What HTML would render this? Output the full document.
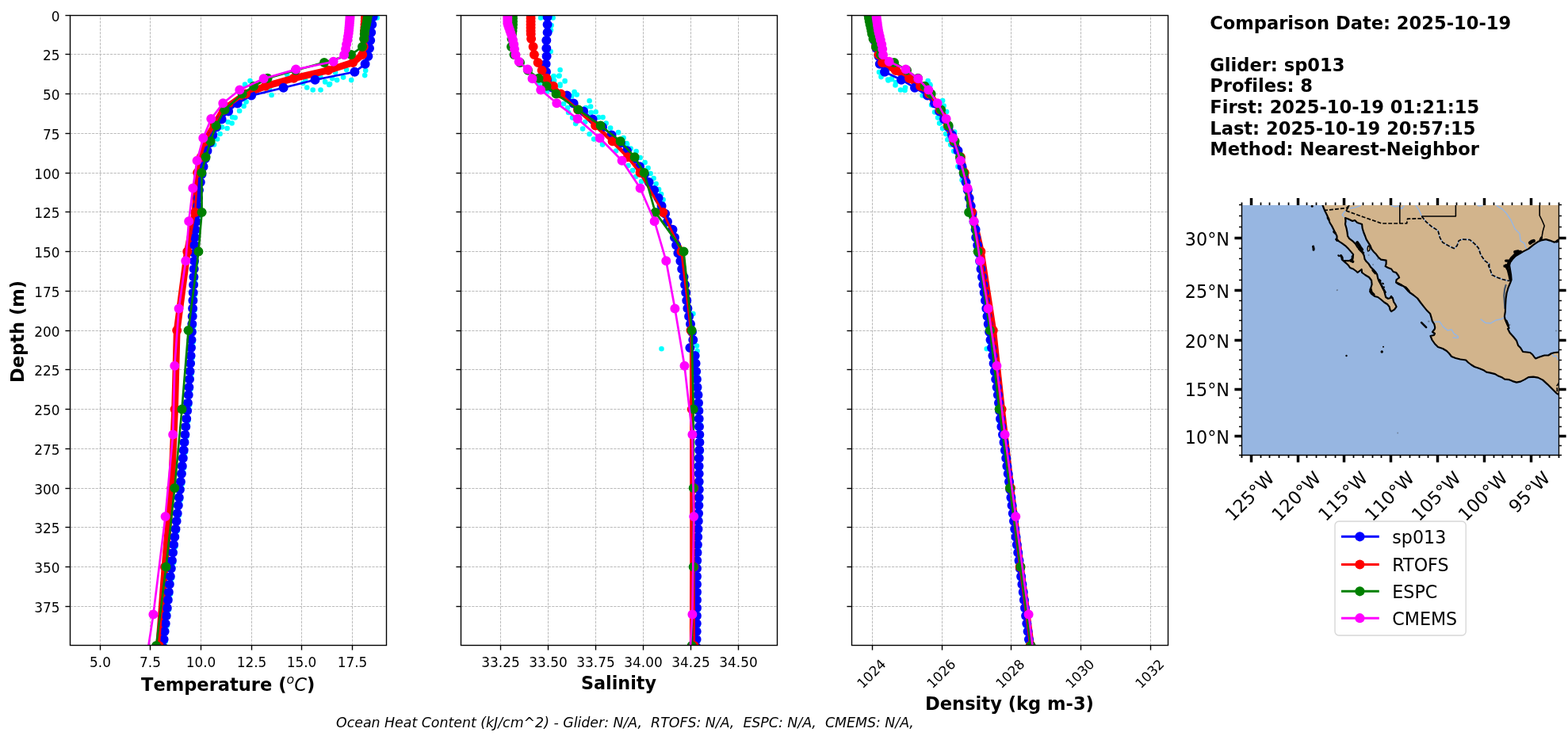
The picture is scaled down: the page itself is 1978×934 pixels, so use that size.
<!DOCTYPE html>
<html lang="en"><head><meta charset="utf-8"><title>Glider vs model comparison</title>
<style>html,body{margin:0;padding:0;background:#fff}svg{display:block}text{font-variant-ligatures:none;font-kerning:normal}</style></head>
<body>
<svg width="1978" height="934" viewBox="0 0 1978 934" font-family='"DejaVu Sans","Liberation Sans",sans-serif'>
<rect width="1978" height="934" fill="#fff"/>
<defs>
<clipPath id="c0"><rect x="88.5" y="19.5" width="399.0" height="795.0"/></clipPath>
<clipPath id="c1"><rect x="581.5" y="19.5" width="399.0" height="795.0"/></clipPath>
<clipPath id="c2"><rect x="1074.5" y="19.5" width="399.0" height="795.0"/></clipPath>
</defs>
<g stroke="#b0b0b0" stroke-width="0.87" stroke-dasharray="3.2 1.39" fill="none"><path d="M126.50 814.5V19.5"/><path d="M189.50 814.5V19.5"/><path d="M253.50 814.5V19.5"/><path d="M317.50 814.5V19.5"/><path d="M380.50 814.5V19.5"/><path d="M444.50 814.5V19.5"/><path d="M88.5 19.50H487.5"/><path d="M88.5 68.50H487.5"/><path d="M88.5 118.50H487.5"/><path d="M88.5 168.50H487.5"/><path d="M88.5 218.50H487.5"/><path d="M88.5 267.50H487.5"/><path d="M88.5 317.50H487.5"/><path d="M88.5 367.50H487.5"/><path d="M88.5 417.50H487.5"/><path d="M88.5 466.50H487.5"/><path d="M88.5 516.50H487.5"/><path d="M88.5 566.50H487.5"/><path d="M88.5 616.50H487.5"/><path d="M88.5 665.50H487.5"/><path d="M88.5 715.50H487.5"/><path d="M88.5 765.50H487.5"/></g>
<g clip-path="url(#c0)"><path d="M475.7 22.5h0M461.2 89.1h0M460.2 95.1h0M437.1 88.1h0M423.1 91.6h0M433.1 97.6h0M419.1 99.1h0M425.1 101.1h0M443.2 101.1h0M410.1 103.1h0M404.1 97.1h0M416.1 106.1h0M315.5 102.1h0M362.1 94.1h0M309.0 106.6h0M385.1 101.1h0M309.1 107.5h0M342.6 120.0h0M340.1 111.0h0M387.2 110.5h0M394.7 113.5h0M404.5 113.5h0M410.2 103.5h0M415.2 107.0h0M382.2 105.0h0M404.2 97.5h0M310.6 128.5h0M307.6 134.0h0M302.1 140.0h0M293.1 148.0h0M296.6 148.5h0M287.6 154.0h0M292.6 155.5h0M280.1 160.5h0M286.6 162.0h0M277.6 169.0h0M274.1 175.5h0M270.1 182.5h0M251.5 258.4h0M250.6 272.2h0M249.7 278.3h0M248.7 292.1h0M248.0 298.2h0M247.6 312.0h0M247.4 318.1h0M247.2 331.9h0M246.9 338.0h0M246.6 351.8h0M246.3 357.9h0M245.9 371.7h0M245.6 377.8h0M245.3 391.6h0M244.9 397.7h0M244.5 411.5h0M244.1 417.6h0M243.7 431.4h0M243.2 437.5h0M242.8 451.3h0M242.3 457.3h0M241.8 471.2h0M241.2 477.2h0M240.6 491.1h0M239.9 497.1h0M239.1 511.0h0M238.3 517.0h0M237.4 530.9h0M236.5 536.9h0M235.6 550.8h0M234.7 556.8h0M233.9 570.7h0M233.0 576.7h0M232.0 590.6h0M231.1 596.6h0M230.1 610.5h0M229.1 616.5h0M228.0 630.4h0M227.0 636.4h0M225.9 650.3h0M224.8 656.3h0M223.7 670.1h0M222.5 676.2h0M221.3 690.0h0M220.2 696.1h0M219.1 709.9h0M218.0 716.0h0M217.0 729.8h0M216.0 735.9h0M215.0 749.7h0M214.0 755.8h0M213.0 769.6h0M211.9 775.7h0M210.9 789.5h0M209.8 795.6h0M208.8 809.4h0M207.8 815.5h0" fill="none" stroke="#00ffff" stroke-width="6.6" stroke-linecap="round"/><path d="M461.0 19.2L460.9 23.1L460.7 27.1L460.5 31.1L460.3 35.1L460.0 39.1L459.8 43.0L459.5 49.0L458.7 59.0L457.2 68.9L445.2 78.9L414.1 88.8L370.6 98.8L335.0 108.7L310.0 118.6L282.0 138.5L270.5 158.4L259.0 178.3L253.6 198.2L249.1 218.1L246.1 267.9L236.3 317.6L223.2 417.1L220.6 516.5L216.3 616.0L208.0 715.5L200.6 815.0" fill="none" stroke="#ff0000" stroke-width="8.7" stroke-linejoin="round" stroke-linecap="butt"/><path d="M470.6 21.2L469.3 31.1L468.2 41.1L467.2 51.0L466.0 60.9L464.4 70.9L460.6 80.8L447.4 90.8L397.5 100.7L357.6 110.7L317.1 120.6L299.6 130.6L288.1 140.5L279.6 150.5L273.1 160.4L268.3 170.4L265.0 180.3L261.5 190.3L258.8 200.2L256.5 210.2L254.5 220.1L252.8 230.1L251.0 240.0L250.0 250.0L249.3 259.9L248.4 269.8L247.5 279.8L246.5 289.7L245.8 299.7L245.4 309.6L245.2 319.6L245.0 329.5L244.7 339.5L244.4 349.4L244.1 359.4L243.7 369.3L243.4 379.3L243.1 389.2L242.7 399.2L242.3 409.1L241.9 419.1L241.5 429.0L241.0 439.0L240.6 448.9L240.1 458.8L239.6 468.8L239.0 478.7L238.4 488.7L237.7 498.6L236.9 508.6L236.1 518.5L235.2 528.5L234.3 538.4L233.4 548.4L232.5 558.3L231.7 568.3L230.8 578.2L229.8 588.2L228.9 598.1L227.9 608.1L226.9 618.0L225.8 628.0L224.8 637.9L223.7 647.9L222.6 657.8L221.5 667.7L220.3 677.7L219.1 687.6L218.0 697.6L216.9 707.5L215.8 717.5L214.8 727.4L213.8 737.4L212.8 747.3L211.8 757.3L210.8 767.2L209.7 777.2L208.7 787.1L207.6 797.1L206.6 807.0L205.6 817.0" fill="none" stroke="#0000ff" stroke-width="2.7" stroke-linejoin="round" stroke-linecap="butt"/><path d="M470.6 21.2h0M469.3 31.1h0M468.2 41.1h0M467.2 51.0h0M466.0 60.9h0M464.4 70.9h0M460.6 80.8h0M447.4 90.8h0M397.5 100.7h0M357.6 110.7h0M317.1 120.6h0M299.6 130.6h0M288.1 140.5h0M279.6 150.5h0M273.1 160.4h0M268.3 170.4h0M265.0 180.3h0M261.5 190.3h0M258.8 200.2h0M256.5 210.2h0M254.5 220.1h0M252.8 230.1h0M251.0 240.0h0M250.0 250.0h0M249.3 259.9h0M248.4 269.8h0M247.5 279.8h0M246.5 289.7h0M245.8 299.7h0M245.4 309.6h0M245.2 319.6h0M245.0 329.5h0M244.7 339.5h0M244.4 349.4h0M244.1 359.4h0M243.7 369.3h0M243.4 379.3h0M243.1 389.2h0M242.7 399.2h0M242.3 409.1h0M241.9 419.1h0M241.5 429.0h0M241.0 439.0h0M240.6 448.9h0M240.1 458.8h0M239.6 468.8h0M239.0 478.7h0M238.4 488.7h0M237.7 498.6h0M236.9 508.6h0M236.1 518.5h0M235.2 528.5h0M234.3 538.4h0M233.4 548.4h0M232.5 558.3h0M231.7 568.3h0M230.8 578.2h0M229.8 588.2h0M228.9 598.1h0M227.9 608.1h0M226.9 618.0h0M225.8 628.0h0M224.8 637.9h0M223.7 647.9h0M222.6 657.8h0M221.5 667.7h0M220.3 677.7h0M219.1 687.6h0M218.0 697.6h0M216.9 707.5h0M215.8 717.5h0M214.8 727.4h0M213.8 737.4h0M212.8 747.3h0M211.8 757.3h0M210.8 767.2h0M209.7 777.2h0M208.7 787.1h0M207.6 797.1h0M206.6 807.0h0M205.6 817.0h0" fill="none" stroke="#0000ff" stroke-width="12.0" stroke-linecap="round"/><path d="M461.0 19.2L460.9 23.1L460.7 27.1L460.5 31.1L460.3 35.1L460.0 39.1L459.8 43.0L459.5 49.0L458.7 59.0L457.2 68.9L445.2 78.9L414.1 88.8L370.6 98.8L335.0 108.7L310.0 118.6L282.0 138.5L270.5 158.4L259.0 178.3L253.6 198.2L249.1 218.1L246.1 267.9L236.3 317.6L223.2 417.1L220.6 516.5L216.3 616.0L208.0 715.5L200.6 815.0" fill="none" stroke="#ff0000" stroke-width="2.7" stroke-linejoin="round" stroke-linecap="butt"/><path d="M461.0 19.2h0M460.9 23.1h0M460.7 27.1h0M460.5 31.1h0M460.3 35.1h0M460.0 39.1h0M459.8 43.0h0M459.5 49.0h0M458.7 59.0h0M457.2 68.9h0M445.2 78.9h0M414.1 88.8h0M370.6 98.8h0M335.0 108.7h0M310.0 118.6h0M282.0 138.5h0M270.5 158.4h0M259.0 178.3h0M253.6 198.2h0M249.1 218.1h0M246.1 267.9h0M236.3 317.6h0M223.2 417.1h0M220.6 516.5h0M216.3 616.0h0M208.0 715.5h0M200.6 815.0h0" fill="none" stroke="#ff0000" stroke-width="12.0" stroke-linecap="round"/><path d="M464.2 19.2L463.5 23.1L462.8 27.1L462.0 31.1L461.0 35.1L460.2 39.1L459.8 43.0L459.2 49.0L457.0 59.0L443.0 68.9L409.0 78.9L373.0 88.8L337.6 98.8L320.1 108.7L305.6 118.6L283.6 138.5L272.6 158.4L265.6 178.3L259.6 198.2L254.4 218.1L254.6 267.9L250.4 317.6L237.6 417.1L229.5 516.5L220.3 616.0L209.5 715.5L197.1 815.0" fill="none" stroke="#008000" stroke-width="2.7" stroke-linejoin="round" stroke-linecap="butt"/><path d="M464.2 19.2h0M463.5 23.1h0M462.8 27.1h0M462.0 31.1h0M461.0 35.1h0M460.2 39.1h0M459.8 43.0h0M459.2 49.0h0M457.0 59.0h0M443.0 68.9h0M409.0 78.9h0M373.0 88.8h0M337.6 98.8h0M320.1 108.7h0M305.6 118.6h0M283.6 138.5h0M272.6 158.4h0M265.6 178.3h0M259.6 198.2h0M254.4 218.1h0M254.6 267.9h0M250.4 317.6h0M237.6 417.1h0M229.5 516.5h0M220.3 616.0h0M209.5 715.5h0M197.1 815.0h0" fill="none" stroke="#008000" stroke-width="12.0" stroke-linecap="round"/><path d="M441.6 20.1L441.5 22.2L441.3 24.4L441.1 26.8L440.9 29.3L440.7 32.0L440.4 34.9L440.1 38.2L439.7 41.9L439.0 46.0L438.3 50.6L437.1 56.0L436.1 62.1L434.1 69.3L420.6 77.7L373.3 87.6L332.6 99.3L302.3 113.5L281.3 130.2L266.3 150.1L256.3 174.2L248.6 202.8L243.3 237.4L238.2 279.2L234.3 329.3L225.6 389.4L220.3 461.8L218.2 548.4L208.6 652.0L193.4 775.6L170.9 922.2" fill="none" stroke="#ff00ff" stroke-width="2.7" stroke-linejoin="round" stroke-linecap="butt"/><path d="M441.6 20.1h0M441.5 22.2h0M441.3 24.4h0M441.1 26.8h0M440.9 29.3h0M440.7 32.0h0M440.4 34.9h0M440.1 38.2h0M439.7 41.9h0M439.0 46.0h0M438.3 50.6h0M437.1 56.0h0M436.1 62.1h0M434.1 69.3h0M420.6 77.7h0M373.3 87.6h0M332.6 99.3h0M302.3 113.5h0M281.3 130.2h0M266.3 150.1h0M256.3 174.2h0M248.6 202.8h0M243.3 237.4h0M238.2 279.2h0M234.3 329.3h0M225.6 389.4h0M220.3 461.8h0M218.2 548.4h0M208.6 652.0h0M193.4 775.6h0M170.9 922.2h0" fill="none" stroke="#ff00ff" stroke-width="12.0" stroke-linecap="round"/></g>
<g stroke="#000" stroke-width="1.39" fill="none"><path d="M126.50 814.5v6.08"/><path d="M189.50 814.5v6.08"/><path d="M253.50 814.5v6.08"/><path d="M317.50 814.5v6.08"/><path d="M380.50 814.5v6.08"/><path d="M444.50 814.5v6.08"/><path d="M88.5 19.50h-6.08"/><path d="M88.5 68.50h-6.08"/><path d="M88.5 118.50h-6.08"/><path d="M88.5 168.50h-6.08"/><path d="M88.5 218.50h-6.08"/><path d="M88.5 267.50h-6.08"/><path d="M88.5 317.50h-6.08"/><path d="M88.5 367.50h-6.08"/><path d="M88.5 417.50h-6.08"/><path d="M88.5 466.50h-6.08"/><path d="M88.5 516.50h-6.08"/><path d="M88.5 566.50h-6.08"/><path d="M88.5 616.50h-6.08"/><path d="M88.5 665.50h-6.08"/><path d="M88.5 715.50h-6.08"/><path d="M88.5 765.50h-6.08"/><rect x="88.5" y="19.5" width="399.0" height="795.0" stroke-linejoin="miter"/></g>
<g font-size="16.9" fill="#000"><text x="126.50" y="842.3" text-anchor="middle">5.0</text><text x="189.50" y="842.3" text-anchor="middle">7.5</text><text x="253.50" y="842.3" text-anchor="middle">10.0</text><text x="317.50" y="842.3" text-anchor="middle">12.5</text><text x="380.50" y="842.3" text-anchor="middle">15.0</text><text x="444.50" y="842.3" text-anchor="middle">17.5</text><text x="75.5" y="26.60" text-anchor="end">0</text><text x="75.5" y="75.60" text-anchor="end">25</text><text x="75.5" y="125.60" text-anchor="end">50</text><text x="75.5" y="175.60" text-anchor="end">75</text><text x="75.5" y="225.60" text-anchor="end">100</text><text x="75.5" y="274.60" text-anchor="end">125</text><text x="75.5" y="324.60" text-anchor="end">150</text><text x="75.5" y="374.60" text-anchor="end">175</text><text x="75.5" y="424.60" text-anchor="end">200</text><text x="75.5" y="473.60" text-anchor="end">225</text><text x="75.5" y="523.60" text-anchor="end">250</text><text x="75.5" y="573.60" text-anchor="end">275</text><text x="75.5" y="623.60" text-anchor="end">300</text><text x="75.5" y="672.60" text-anchor="end">325</text><text x="75.5" y="722.60" text-anchor="end">350</text><text x="75.5" y="772.60" text-anchor="end">375</text></g>
<g stroke="#b0b0b0" stroke-width="0.87" stroke-dasharray="3.2 1.39" fill="none"><path d="M631.50 814.5V19.5"/><path d="M691.50 814.5V19.5"/><path d="M751.50 814.5V19.5"/><path d="M811.50 814.5V19.5"/><path d="M871.50 814.5V19.5"/><path d="M931.50 814.5V19.5"/><path d="M581.5 19.50H980.5"/><path d="M581.5 68.50H980.5"/><path d="M581.5 118.50H980.5"/><path d="M581.5 168.50H980.5"/><path d="M581.5 218.50H980.5"/><path d="M581.5 267.50H980.5"/><path d="M581.5 317.50H980.5"/><path d="M581.5 367.50H980.5"/><path d="M581.5 417.50H980.5"/><path d="M581.5 466.50H980.5"/><path d="M581.5 516.50H980.5"/><path d="M581.5 566.50H980.5"/><path d="M581.5 616.50H980.5"/><path d="M581.5 665.50H980.5"/><path d="M581.5 715.50H980.5"/><path d="M581.5 765.50H980.5"/></g>
<g clip-path="url(#c1)"><path d="M682.1 22.5h0M697.6 22.5h0M695.6 32.0h0M694.9 38.0h0M694.6 65.1h0M706.6 88.3h0M698.6 96.1h0M705.6 95.6h0M712.6 102.1h0M699.1 101.6h0M680.1 105.6h0M706.6 106.6h0M698.0 97.0h0M705.1 96.0h0M712.6 102.5h0M706.6 108.0h0M680.5 105.5h0M724.6 116.0h0M727.6 119.5h0M721.1 121.5h0M690.0 115.5h0M743.6 127.2h0M745.1 134.5h0M739.1 136.0h0M751.6 141.2h0M745.6 142.0h0M755.1 148.1h0M760.6 148.1h0M717.1 142.0h0M722.1 148.6h0M726.1 156.1h0M738.1 154.1h0M735.1 162.6h0M764.6 155.6h0M770.1 161.6h0M743.6 169.3h0M749.1 175.6h0M780.1 167.1h0M786.6 174.1h0M760.1 182.6h0M790.6 181.1h0M795.6 187.6h0M711.1 131.0h0M716.1 136.0h0M760.0 182.5h0M791.1 182.0h0M802.6 191.0h0M777.0 190.5h0M807.6 199.0h0M813.6 205.0h0M817.6 212.0h0M820.6 219.0h0M824.6 225.0h0M827.6 232.1h0M831.1 239.1h0M834.1 245.1h0M836.6 252.1h0M792.6 209.0h0M798.1 215.0h0M802.1 223.0h0M809.1 229.0h0M834.5 440.3h0M874.4 396.0h0M879.0 436.5h0M879.6 443.0h0M836.2 258.4h0M840.7 272.2h0M843.6 278.3h0M850.1 292.1h0M852.6 298.2h0M854.7 312.0h0M857.0 318.1h0M860.0 331.9h0M861.8 338.0h0M864.1 351.8h0M865.7 357.9h0M866.8 371.7h0M867.9 377.8h0M869.0 391.6h0M870.7 397.7h0M872.6 411.5h0M874.6 417.6h0M875.9 431.4h0M872.0 437.5h0M878.3 451.3h0M879.2 457.3h0M879.8 471.2h0M880.5 477.2h0M881.1 491.1h0M882.1 497.1h0M882.6 511.0h0M883.0 517.0h0M883.3 530.9h0M883.6 536.9h0M883.9 550.8h0M884.0 556.8h0M883.8 570.7h0M883.4 576.7h0M883.2 590.6h0M883.3 596.6h0M883.3 610.5h0M883.4 616.5h0M883.3 630.4h0M883.0 636.4h0M882.7 650.3h0M882.4 656.3h0M882.1 670.1h0M881.8 676.2h0M881.5 690.0h0M881.1 696.1h0M880.8 709.9h0M880.6 716.0h0M880.6 729.8h0M880.6 735.9h0M880.6 749.7h0M880.6 755.8h0M880.6 769.6h0M880.5 775.7h0M880.4 789.5h0M880.3 795.6h0M880.2 809.4h0M880.2 815.5h0" fill="none" stroke="#00ffff" stroke-width="6.6" stroke-linecap="round"/><path d="M669.6 19.2L669.6 23.1L669.6 27.1L669.6 31.1L669.6 35.1L669.6 39.1L669.7 43.0L670.1 49.0L672.6 59.0L673.9 68.9L678.6 78.9L683.6 88.8L689.6 98.8L698.0 108.7L707.5 118.6L729.0 138.5L751.1 158.4L772.6 178.3L792.5 198.2L808.3 218.1L837.3 267.9L860.5 317.6L872.3 417.1L872.6 516.5L872.7 616.0L872.7 715.5L872.3 815.0" fill="none" stroke="#ff0000" stroke-width="5.0" stroke-linejoin="round" stroke-linecap="butt"/><path d="M690.6 21.2L690.6 31.1L690.6 41.1L689.3 51.0L689.3 60.9L689.6 70.9L688.6 80.8L689.0 90.8L690.1 100.7L697.0 110.7L715.1 120.6L723.6 130.6L736.1 140.5L747.6 150.5L760.0 160.4L771.6 170.4L783.0 180.3L791.0 190.3L800.0 200.2L807.0 210.2L813.0 220.1L818.6 230.1L825.1 240.0L830.6 250.0L834.6 259.9L839.1 269.8L842.0 279.8L848.5 289.7L851.0 299.7L853.1 309.6L855.4 319.6L858.4 329.5L860.2 339.5L862.5 349.4L864.1 359.4L865.2 369.3L866.3 379.3L867.4 389.2L869.1 399.2L871.0 409.1L873.0 419.1L874.3 429.0L870.4 439.0L876.7 448.9L877.6 458.8L878.2 468.8L878.9 478.7L879.5 488.7L880.5 498.6L881.0 508.6L881.4 518.5L881.7 528.5L882.0 538.4L882.3 548.4L882.4 558.3L882.2 568.3L881.8 578.2L881.6 588.2L881.7 598.1L881.7 608.1L881.8 618.0L881.7 628.0L881.4 637.9L881.1 647.9L880.8 657.8L880.5 667.7L880.2 677.7L879.9 687.6L879.5 697.6L879.2 707.5L879.0 717.5L879.0 727.4L879.0 737.4L879.0 747.3L879.0 757.3L879.0 767.2L878.9 777.2L878.8 787.1L878.7 797.1L878.6 807.0L878.6 817.0" fill="none" stroke="#0000ff" stroke-width="2.7" stroke-linejoin="round" stroke-linecap="butt"/><path d="M690.6 21.2h0M690.6 31.1h0M690.6 41.1h0M689.3 51.0h0M689.3 60.9h0M689.6 70.9h0M688.6 80.8h0M689.0 90.8h0M690.1 100.7h0M697.0 110.7h0M715.1 120.6h0M723.6 130.6h0M736.1 140.5h0M747.6 150.5h0M760.0 160.4h0M771.6 170.4h0M783.0 180.3h0M791.0 190.3h0M800.0 200.2h0M807.0 210.2h0M813.0 220.1h0M818.6 230.1h0M825.1 240.0h0M830.6 250.0h0M834.6 259.9h0M839.1 269.8h0M842.0 279.8h0M848.5 289.7h0M851.0 299.7h0M853.1 309.6h0M855.4 319.6h0M858.4 329.5h0M860.2 339.5h0M862.5 349.4h0M864.1 359.4h0M865.2 369.3h0M866.3 379.3h0M867.4 389.2h0M869.1 399.2h0M871.0 409.1h0M873.0 419.1h0M874.3 429.0h0M870.4 439.0h0M876.7 448.9h0M877.6 458.8h0M878.2 468.8h0M878.9 478.7h0M879.5 488.7h0M880.5 498.6h0M881.0 508.6h0M881.4 518.5h0M881.7 528.5h0M882.0 538.4h0M882.3 548.4h0M882.4 558.3h0M882.2 568.3h0M881.8 578.2h0M881.6 588.2h0M881.7 598.1h0M881.7 608.1h0M881.8 618.0h0M881.7 628.0h0M881.4 637.9h0M881.1 647.9h0M880.8 657.8h0M880.5 667.7h0M880.2 677.7h0M879.9 687.6h0M879.5 697.6h0M879.2 707.5h0M879.0 717.5h0M879.0 727.4h0M879.0 737.4h0M879.0 747.3h0M879.0 757.3h0M879.0 767.2h0M878.9 777.2h0M878.8 787.1h0M878.7 797.1h0M878.6 807.0h0M878.6 817.0h0" fill="none" stroke="#0000ff" stroke-width="12.0" stroke-linecap="round"/><path d="M669.6 19.2L669.6 23.1L669.6 27.1L669.6 31.1L669.6 35.1L669.6 39.1L669.7 43.0L670.1 49.0L672.6 59.0L673.9 68.9L678.6 78.9L683.6 88.8L689.6 98.8L698.0 108.7L707.5 118.6L729.0 138.5L751.1 158.4L772.6 178.3L792.0 198.2L807.6 218.1L836.3 267.9L859.5 317.6L871.5 417.1L872.8 516.5L875.3 616.0L875.3 715.5L875.7 815.0" fill="none" stroke="#ff0000" stroke-width="2.7" stroke-linejoin="round" stroke-linecap="butt"/><path d="M669.6 19.2h0M669.6 23.1h0M669.6 27.1h0M669.6 31.1h0M669.6 35.1h0M669.6 39.1h0M669.7 43.0h0M670.1 49.0h0M672.6 59.0h0M673.9 68.9h0M678.6 78.9h0M683.6 88.8h0M689.6 98.8h0M698.0 108.7h0M707.5 118.6h0M729.0 138.5h0M751.1 158.4h0M772.6 178.3h0M792.0 198.2h0M807.6 218.1h0M836.3 267.9h0M859.5 317.6h0M871.5 417.1h0M872.8 516.5h0M875.3 616.0h0M875.3 715.5h0M875.7 815.0h0" fill="none" stroke="#ff0000" stroke-width="12.0" stroke-linecap="round"/><path d="M647.0 19.2L647.0 23.1L647.0 27.1L647.0 31.1L646.8 35.1L646.5 39.1L646.0 43.0L645.5 49.0L645.0 59.0L648.5 68.9L656.0 78.9L666.0 88.8L679.5 98.8L689.5 108.7L701.5 118.6L729.6 138.5L757.6 158.4L782.6 178.3L800.6 198.2L812.6 218.1L826.6 267.9L862.5 317.6L872.6 417.1L874.7 516.5L874.7 616.0L874.7 715.5L872.6 815.0" fill="none" stroke="#008000" stroke-width="2.7" stroke-linejoin="round" stroke-linecap="butt"/><path d="M647.0 19.2h0M647.0 23.1h0M647.0 27.1h0M647.0 31.1h0M646.8 35.1h0M646.5 39.1h0M646.0 43.0h0M645.5 49.0h0M645.0 59.0h0M648.5 68.9h0M656.0 78.9h0M666.0 88.8h0M679.5 98.8h0M689.5 108.7h0M701.5 118.6h0M729.6 138.5h0M757.6 158.4h0M782.6 178.3h0M800.6 198.2h0M812.6 218.1h0M826.6 267.9h0M862.5 317.6h0M872.6 417.1h0M874.7 516.5h0M874.7 616.0h0M874.7 715.5h0M872.6 815.0h0" fill="none" stroke="#008000" stroke-width="12.0" stroke-linecap="round"/><path d="M640.3 20.1L640.3 22.2L640.3 24.4L640.3 26.8L640.3 29.3L641.0 32.0L642.0 34.9L643.2 38.2L644.4 41.9L645.8 46.0L647.0 50.6L648.2 56.0L649.0 62.1L650.5 69.3L654.6 77.7L665.6 87.6L671.5 99.3L682.2 113.5L702.3 130.2L728.6 150.1L756.6 174.2L784.6 202.8L807.6 237.4L825.6 279.2L840.3 329.3L851.4 389.4L863.5 461.8L873.4 548.4L875.2 652.0L873.4 775.6L864.2 922.2" fill="none" stroke="#ff00ff" stroke-width="2.7" stroke-linejoin="round" stroke-linecap="butt"/><path d="M640.3 20.1h0M640.3 22.2h0M640.3 24.4h0M640.3 26.8h0M640.3 29.3h0M641.0 32.0h0M642.0 34.9h0M643.2 38.2h0M644.4 41.9h0M645.8 46.0h0M647.0 50.6h0M648.2 56.0h0M649.0 62.1h0M650.5 69.3h0M654.6 77.7h0M665.6 87.6h0M671.5 99.3h0M682.2 113.5h0M702.3 130.2h0M728.6 150.1h0M756.6 174.2h0M784.6 202.8h0M807.6 237.4h0M825.6 279.2h0M840.3 329.3h0M851.4 389.4h0M863.5 461.8h0M873.4 548.4h0M875.2 652.0h0M873.4 775.6h0M864.2 922.2h0" fill="none" stroke="#ff00ff" stroke-width="12.0" stroke-linecap="round"/></g>
<g stroke="#000" stroke-width="1.39" fill="none"><path d="M631.50 814.5v6.08"/><path d="M691.50 814.5v6.08"/><path d="M751.50 814.5v6.08"/><path d="M811.50 814.5v6.08"/><path d="M871.50 814.5v6.08"/><path d="M931.50 814.5v6.08"/><path d="M581.5 19.50h-6.08"/><path d="M581.5 68.50h-6.08"/><path d="M581.5 118.50h-6.08"/><path d="M581.5 168.50h-6.08"/><path d="M581.5 218.50h-6.08"/><path d="M581.5 267.50h-6.08"/><path d="M581.5 317.50h-6.08"/><path d="M581.5 367.50h-6.08"/><path d="M581.5 417.50h-6.08"/><path d="M581.5 466.50h-6.08"/><path d="M581.5 516.50h-6.08"/><path d="M581.5 566.50h-6.08"/><path d="M581.5 616.50h-6.08"/><path d="M581.5 665.50h-6.08"/><path d="M581.5 715.50h-6.08"/><path d="M581.5 765.50h-6.08"/><rect x="581.5" y="19.5" width="399.0" height="795.0" stroke-linejoin="miter"/></g>
<g font-size="16.9" fill="#000"><text x="631.50" y="842.3" text-anchor="middle">33.25</text><text x="691.50" y="842.3" text-anchor="middle">33.50</text><text x="751.50" y="842.3" text-anchor="middle">33.75</text><text x="811.50" y="842.3" text-anchor="middle">34.00</text><text x="871.50" y="842.3" text-anchor="middle">34.25</text><text x="931.50" y="842.3" text-anchor="middle">34.50</text></g>
<g stroke="#b0b0b0" stroke-width="0.87" stroke-dasharray="3.2 1.39" fill="none"><path d="M1100.50 814.5V19.5"/><path d="M1188.50 814.5V19.5"/><path d="M1275.50 814.5V19.5"/><path d="M1363.50 814.5V19.5"/><path d="M1451.50 814.5V19.5"/><path d="M1074.5 19.50H1473.5"/><path d="M1074.5 68.50H1473.5"/><path d="M1074.5 118.50H1473.5"/><path d="M1074.5 168.50H1473.5"/><path d="M1074.5 218.50H1473.5"/><path d="M1074.5 267.50H1473.5"/><path d="M1074.5 317.50H1473.5"/><path d="M1074.5 367.50H1473.5"/><path d="M1074.5 417.50H1473.5"/><path d="M1074.5 466.50H1473.5"/><path d="M1074.5 516.50H1473.5"/><path d="M1074.5 566.50H1473.5"/><path d="M1074.5 616.50H1473.5"/><path d="M1074.5 665.50H1473.5"/><path d="M1074.5 715.50H1473.5"/><path d="M1074.5 765.50H1473.5"/></g>
<g clip-path="url(#c2)"><path d="M1109.0 91.1h0M1111.5 97.1h0M1120.1 100.6h0M1125.1 99.1h0M1130.1 104.1h0M1170.6 102.1h0M1173.1 106.6h0M1111.5 96.5h0M1120.5 101.5h0M1129.5 107.5h0M1125.0 100.0h0M1136.0 113.5h0M1142.0 110.5h0M1141.5 114.0h0M1170.6 102.0h0M1173.6 107.5h0M1163.6 120.5h0M1189.1 127.0h0M1175.1 132.5h0M1179.1 141.5h0M1183.1 148.6h0M1185.1 155.6h0M1189.1 162.1h0M1193.1 169.1h0M1196.1 175.6h0M1200.1 182.1h0M1190.6 133.5h0M1194.1 141.0h0M1204.1 166.6h0M1195.3 176.3h0M1199.2 182.8h0M1203.2 190.7h0M1208.4 210.3h0M1213.6 227.3h0M1244.7 440.3h0M1223.1 258.4h0M1224.9 272.2h0M1226.9 278.3h0M1229.0 292.1h0M1229.6 298.2h0M1231.6 312.0h0M1233.2 318.1h0M1234.5 331.9h0M1235.9 338.0h0M1237.4 351.8h0M1238.8 357.9h0M1240.1 371.7h0M1241.4 377.8h0M1242.7 391.6h0M1243.9 397.7h0M1245.1 411.5h0M1246.5 417.6h0M1247.9 431.4h0M1249.4 437.5h0M1250.8 451.3h0M1252.0 457.3h0M1253.2 471.2h0M1254.6 477.2h0M1256.0 491.1h0M1257.3 497.1h0M1258.4 511.0h0M1259.4 517.0h0M1260.4 530.9h0M1261.8 536.9h0M1263.4 550.8h0M1264.9 556.8h0M1266.3 570.7h0M1267.6 576.7h0M1268.8 590.6h0M1270.1 596.6h0M1271.4 610.5h0M1272.6 616.5h0M1273.8 630.4h0M1275.0 636.4h0M1276.2 650.3h0M1277.4 656.3h0M1278.6 670.1h0M1279.9 676.2h0M1281.2 690.0h0M1282.6 696.1h0M1283.9 709.9h0M1285.2 716.0h0M1286.5 729.8h0M1287.8 735.9h0M1289.1 749.7h0M1290.3 755.8h0M1291.4 769.6h0M1292.5 775.7h0M1293.7 789.5h0M1295.0 795.6h0M1296.3 809.4h0M1297.6 815.5h0" fill="none" stroke="#00ffff" stroke-width="6.6" stroke-linecap="round"/><path d="M1097.0 19.2L1097.4 23.1L1097.9 27.1L1098.5 31.1L1099.2 35.1L1100.0 39.1L1100.8 43.0L1102.0 49.0L1105.0 59.0L1108.5 68.9L1113.0 78.9L1130.0 88.8L1147.0 98.8L1161.0 108.7L1172.0 118.6L1186.0 138.5L1195.8 158.4L1203.7 178.3L1211.8 198.2L1216.7 218.1L1226.3 267.9L1237.4 317.6L1252.8 417.1L1263.6 516.5L1275.0 616.0L1287.5 715.5L1300.5 815.0" fill="none" stroke="#ff0000" stroke-width="8.7" stroke-linejoin="round" stroke-linecap="butt"/><path d="M1097.0 19.2h0M1097.4 23.1h0M1097.9 27.1h0M1098.5 31.1h0M1099.2 35.1h0M1100.0 39.1h0M1100.8 43.0h0M1102.0 49.0h0M1105.0 59.0h0M1108.5 68.9h0M1113.0 78.9h0M1130.0 88.8h0M1147.0 98.8h0M1161.0 108.7h0M1172.0 118.6h0M1186.0 138.5h0M1195.8 158.4h0M1203.7 178.3h0M1211.8 198.2h0M1216.7 218.1h0M1226.3 267.9h0M1237.4 317.6h0M1252.8 417.1h0M1263.6 516.5h0M1275.0 616.0h0M1287.5 715.5h0M1300.5 815.0h0" fill="none" stroke="#ff0000" stroke-width="12.0" stroke-linecap="round"/><path d="M1098.0 21.2L1099.5 31.1L1101.0 41.1L1103.0 51.0L1105.5 60.9L1108.5 70.9L1109.8 80.8L1116.0 90.8L1137.0 100.7L1154.0 110.7L1170.0 120.6L1179.0 130.6L1185.0 140.5L1191.0 150.5L1196.5 160.4L1201.0 170.4L1204.0 180.3L1208.5 190.3L1211.5 200.2L1213.5 210.2L1216.0 220.1L1218.5 230.1L1220.8 240.0L1222.7 250.0L1224.7 259.9L1226.5 269.8L1228.5 279.8L1230.6 289.7L1231.2 299.7L1233.2 309.6L1234.8 319.6L1236.1 329.5L1237.5 339.5L1239.0 349.4L1240.4 359.4L1241.7 369.3L1243.0 379.3L1244.3 389.2L1245.5 399.2L1246.7 409.1L1248.1 419.1L1249.5 429.0L1251.0 439.0L1252.4 448.9L1253.6 458.8L1254.8 468.8L1256.2 478.7L1257.6 488.7L1258.9 498.6L1260.0 508.6L1261.0 518.5L1262.0 528.5L1263.4 538.4L1265.0 548.4L1266.5 558.3L1267.9 568.3L1269.2 578.2L1270.4 588.2L1271.7 598.1L1273.0 608.1L1274.2 618.0L1275.4 628.0L1276.6 637.9L1277.8 647.9L1279.0 657.8L1280.2 667.7L1281.5 677.7L1282.8 687.6L1284.2 697.6L1285.5 707.5L1286.8 717.5L1288.1 727.4L1289.4 737.4L1290.7 747.3L1291.9 757.3L1293.0 767.2L1294.1 777.2L1295.3 787.1L1296.6 797.1L1297.9 807.0L1299.2 817.0" fill="none" stroke="#0000ff" stroke-width="2.7" stroke-linejoin="round" stroke-linecap="butt"/><path d="M1098.0 21.2h0M1099.5 31.1h0M1101.0 41.1h0M1103.0 51.0h0M1105.5 60.9h0M1108.5 70.9h0M1109.8 80.8h0M1116.0 90.8h0M1137.0 100.7h0M1154.0 110.7h0M1170.0 120.6h0M1179.0 130.6h0M1185.0 140.5h0M1191.0 150.5h0M1196.5 160.4h0M1201.0 170.4h0M1204.0 180.3h0M1208.5 190.3h0M1211.5 200.2h0M1213.5 210.2h0M1216.0 220.1h0M1218.5 230.1h0M1220.8 240.0h0M1222.7 250.0h0M1224.7 259.9h0M1226.5 269.8h0M1228.5 279.8h0M1230.6 289.7h0M1231.2 299.7h0M1233.2 309.6h0M1234.8 319.6h0M1236.1 329.5h0M1237.5 339.5h0M1239.0 349.4h0M1240.4 359.4h0M1241.7 369.3h0M1243.0 379.3h0M1244.3 389.2h0M1245.5 399.2h0M1246.7 409.1h0M1248.1 419.1h0M1249.5 429.0h0M1251.0 439.0h0M1252.4 448.9h0M1253.6 458.8h0M1254.8 468.8h0M1256.2 478.7h0M1257.6 488.7h0M1258.9 498.6h0M1260.0 508.6h0M1261.0 518.5h0M1262.0 528.5h0M1263.4 538.4h0M1265.0 548.4h0M1266.5 558.3h0M1267.9 568.3h0M1269.2 578.2h0M1270.4 588.2h0M1271.7 598.1h0M1273.0 608.1h0M1274.2 618.0h0M1275.4 628.0h0M1276.6 637.9h0M1277.8 647.9h0M1279.0 657.8h0M1280.2 667.7h0M1281.5 677.7h0M1282.8 687.6h0M1284.2 697.6h0M1285.5 707.5h0M1286.8 717.5h0M1288.1 727.4h0M1289.4 737.4h0M1290.7 747.3h0M1291.9 757.3h0M1293.0 767.2h0M1294.1 777.2h0M1295.3 787.1h0M1296.6 797.1h0M1297.9 807.0h0M1299.2 817.0h0" fill="none" stroke="#0000ff" stroke-width="12.0" stroke-linecap="round"/><path d="M1097.0 19.2L1097.4 23.1L1097.9 27.1L1098.5 31.1L1099.2 35.1L1100.0 39.1L1100.8 43.0L1102.0 49.0L1105.0 59.0L1108.5 68.9L1113.0 78.9L1130.0 88.8L1147.0 98.8L1161.0 108.7L1172.0 118.6L1186.0 138.5L1195.7 158.4L1203.4 178.3L1211.4 198.2L1216.1 218.1L1225.4 267.9L1236.5 317.6L1251.9 417.1L1262.7 516.5L1274.1 616.0L1286.6 715.5L1299.6 815.0" fill="none" stroke="#ff0000" stroke-width="2.7" stroke-linejoin="round" stroke-linecap="butt"/><path d="M1097.0 19.2h0M1097.4 23.1h0M1097.9 27.1h0M1098.5 31.1h0M1099.2 35.1h0M1100.0 39.1h0M1100.8 43.0h0M1102.0 49.0h0M1105.0 59.0h0M1108.5 68.9h0M1113.0 78.9h0M1130.0 88.8h0M1147.0 98.8h0M1161.0 108.7h0M1172.0 118.6h0M1186.0 138.5h0M1195.7 158.4h0M1203.4 178.3h0M1211.4 198.2h0M1216.1 218.1h0M1225.4 267.9h0M1236.5 317.6h0M1251.9 417.1h0M1262.7 516.5h0M1274.1 616.0h0M1286.6 715.5h0M1299.6 815.0h0" fill="none" stroke="#ff0000" stroke-width="12.0" stroke-linecap="round"/><path d="M1095.5 19.2L1096.0 23.1L1096.7 27.1L1097.5 31.1L1098.5 35.1L1099.3 39.1L1100.0 43.0L1101.5 49.0L1105.0 59.0L1111.0 68.9L1128.0 78.9L1144.0 88.8L1158.0 98.8L1166.6 108.7L1174.6 118.6L1187.1 138.5L1196.6 158.4L1204.6 178.3L1211.0 198.2L1215.6 218.1L1222.1 267.9L1233.6 317.6L1248.9 417.1L1260.6 516.5L1274.0 616.0L1287.4 715.5L1300.5 815.0" fill="none" stroke="#008000" stroke-width="2.7" stroke-linejoin="round" stroke-linecap="butt"/><path d="M1095.5 19.2h0M1096.0 23.1h0M1096.7 27.1h0M1097.5 31.1h0M1098.5 35.1h0M1099.3 39.1h0M1100.0 43.0h0M1101.5 49.0h0M1105.0 59.0h0M1111.0 68.9h0M1128.0 78.9h0M1144.0 88.8h0M1158.0 98.8h0M1166.6 108.7h0M1174.6 118.6h0M1187.1 138.5h0M1196.6 158.4h0M1204.6 178.3h0M1211.0 198.2h0M1215.6 218.1h0M1222.1 267.9h0M1233.6 317.6h0M1248.9 417.1h0M1260.6 516.5h0M1274.0 616.0h0M1287.4 715.5h0M1300.5 815.0h0" fill="none" stroke="#008000" stroke-width="12.0" stroke-linecap="round"/><path d="M1105.5 20.1L1105.7 22.2L1106.0 24.4L1106.3 26.8L1106.7 29.3L1107.0 32.0L1107.5 34.9L1108.0 38.2L1108.8 41.9L1109.8 46.0L1110.8 50.6L1112.2 56.0L1113.2 62.1L1114.0 69.3L1121.6 77.7L1142.6 87.6L1158.2 99.3L1171.3 113.5L1182.6 130.2L1193.6 150.1L1202.4 174.2L1211.6 202.8L1220.5 237.4L1228.6 279.2L1236.5 329.3L1246.5 389.4L1257.4 461.8L1267.6 548.4L1281.3 652.0L1297.6 775.6L1315.9 922.2" fill="none" stroke="#ff00ff" stroke-width="2.7" stroke-linejoin="round" stroke-linecap="butt"/><path d="M1105.5 20.1h0M1105.7 22.2h0M1106.0 24.4h0M1106.3 26.8h0M1106.7 29.3h0M1107.0 32.0h0M1107.5 34.9h0M1108.0 38.2h0M1108.8 41.9h0M1109.8 46.0h0M1110.8 50.6h0M1112.2 56.0h0M1113.2 62.1h0M1114.0 69.3h0M1121.6 77.7h0M1142.6 87.6h0M1158.2 99.3h0M1171.3 113.5h0M1182.6 130.2h0M1193.6 150.1h0M1202.4 174.2h0M1211.6 202.8h0M1220.5 237.4h0M1228.6 279.2h0M1236.5 329.3h0M1246.5 389.4h0M1257.4 461.8h0M1267.6 548.4h0M1281.3 652.0h0M1297.6 775.6h0M1315.9 922.2h0" fill="none" stroke="#ff00ff" stroke-width="12.0" stroke-linecap="round"/></g>
<g stroke="#000" stroke-width="1.39" fill="none"><path d="M1100.50 814.5v6.08"/><path d="M1188.50 814.5v6.08"/><path d="M1275.50 814.5v6.08"/><path d="M1363.50 814.5v6.08"/><path d="M1451.50 814.5v6.08"/><path d="M1074.5 19.50h-6.08"/><path d="M1074.5 68.50h-6.08"/><path d="M1074.5 118.50h-6.08"/><path d="M1074.5 168.50h-6.08"/><path d="M1074.5 218.50h-6.08"/><path d="M1074.5 267.50h-6.08"/><path d="M1074.5 317.50h-6.08"/><path d="M1074.5 367.50h-6.08"/><path d="M1074.5 417.50h-6.08"/><path d="M1074.5 466.50h-6.08"/><path d="M1074.5 516.50h-6.08"/><path d="M1074.5 566.50h-6.08"/><path d="M1074.5 616.50h-6.08"/><path d="M1074.5 665.50h-6.08"/><path d="M1074.5 715.50h-6.08"/><path d="M1074.5 765.50h-6.08"/><rect x="1074.5" y="19.5" width="399.0" height="795.0" stroke-linejoin="miter"/></g>
<g font-size="16.9" fill="#000"><text transform="translate(1099.20,850.3) rotate(-45)" text-anchor="middle" dominant-baseline="central">1024</text><text transform="translate(1187.20,850.3) rotate(-45)" text-anchor="middle" dominant-baseline="central">1026</text><text transform="translate(1274.20,850.3) rotate(-45)" text-anchor="middle" dominant-baseline="central">1028</text><text transform="translate(1362.20,850.3) rotate(-45)" text-anchor="middle" dominant-baseline="central">1030</text><text transform="translate(1450.20,850.3) rotate(-45)" text-anchor="middle" dominant-baseline="central">1032</text></g>
<text x="178.0" y="872.3" font-size="22.57" font-weight="bold" style="font-kerning:none" xml:space="preserve">Temperature (<tspan font-weight="normal" font-style="italic" font-size="15.80" dy="-9.2">o</tspan><tspan font-weight="normal" font-style="italic" dy="9.2">C</tspan>)</text>
<text x="732.95" y="870.4" font-size="22.3" font-weight="bold">Salinity</text>
<text x="1273.5" y="895.6" font-size="22.57" font-weight="bold" text-anchor="middle">Density (kg m-3)</text>
<text transform="translate(29.8,418.4) rotate(-90)" font-size="22.57" font-weight="bold" text-anchor="middle">Depth (m)</text>
<text x="424.0" y="918.2" font-size="17.36" font-style="italic" xml:space="preserve">Ocean Heat Content (kJ/cm^2) - Glider: N/A,  RTOFS: N/A,  ESPC: N/A,  CMEMS: N/A,</text>
<text x="1526.3" y="36.6" font-size="22.57" font-weight="bold">Comparison Date: 2025-10-19</text>
<text x="1526.3" y="89.85" font-size="22.57" font-weight="bold">Glider: sp013</text>
<text x="1526.3" y="116.4" font-size="22.57" font-weight="bold">Profiles: 8</text>
<text x="1526.3" y="143.0" font-size="22.57" font-weight="bold">First: 2025-10-19 01:21:15</text>
<text x="1526.3" y="169.6" font-size="22.57" font-weight="bold">Last: 2025-10-19 20:57:15</text>
<text x="1526.3" y="196.2" font-size="22.57" font-weight="bold">Method: Nearest-Neighbor</text>
<clipPath id="cm"><rect x="1566.5" y="259.0" width="400.0" height="315.5"/></clipPath>
<rect x="1566.5" y="259.0" width="400.0" height="315.5" fill="#97b6e1"/>
<g clip-path="url(#cm)" stroke-linejoin="round" stroke-linecap="round">
<path d="M1668.5 259.0L1670.0 263.0L1671.5 266.5L1674.0 271.5L1676.0 276.5L1677.5 281.0L1680.0 285.0L1682.0 289.0L1684.5 294.0L1686.5 298.0L1686.5 302.1L1689.0 304.6L1693.0 307.1L1697.0 310.1L1701.1 314.1L1704.6 318.1L1707.1 321.1L1706.6 325.1L1704.6 328.1L1702.1 329.1L1695.0 329.1L1693.5 328.3L1698.0 332.1L1701.1 335.1L1703.1 338.0L1707.1 339.5L1711.1 342.5L1712.6 344.0L1715.1 342.0L1717.6 340.0L1718.1 344.0L1722.1 347.0L1727.1 350.0L1730.1 354.0L1730.6 359.0L1729.1 364.0L1728.1 368.0L1730.1 371.0L1734.1 374.0L1738.1 375.0L1742.1 378.0L1746.1 381.5L1750.1 384.0L1752.6 387.1L1753.6 391.1L1755.1 393.1L1759.1 390.6L1761.6 387.1L1760.1 384.0L1758.1 381.0L1757.1 377.0L1755.1 374.0L1754.1 376.0L1751.1 377.0L1748.1 375.0L1747.1 371.0L1746.1 367.0L1744.1 363.0L1742.1 359.0L1739.6 355.0L1738.1 351.0L1737.1 346.0L1734.1 343.0L1731.1 339.0L1729.1 337.1L1726.6 333.1L1723.6 330.1L1721.6 327.1L1720.6 322.1L1719.1 319.6L1716.1 316.1L1712.6 312.1L1710.1 308.1L1706.1 304.1L1702.1 301.1L1700.1 298.0L1699.5 293.0L1698.5 288.0L1697.0 283.0L1697.5 279.0L1697.0 275.0L1701.1 276.5L1706.1 279.0L1709.1 278.0L1712.1 281.0L1718.1 283.0L1718.6 288.0L1720.1 293.0L1722.1 298.0L1723.6 302.1L1726.1 306.1L1728.6 310.1L1730.1 314.1L1733.1 318.1L1736.1 321.1L1739.1 325.1L1742.1 327.6L1748.6 328.6L1748.6 333.1L1747.6 336.1L1751.1 338.0L1755.1 339.5L1757.6 343.0L1761.1 344.0L1764.1 348.0L1765.1 350.5L1761.6 353.0L1761.1 356.5L1765.1 359.0L1770.1 361.0L1775.1 364.5L1778.1 369.0L1783.1 372.5L1788.1 376.5L1792.1 382.0L1796.1 387.1L1800.2 392.1L1804.2 396.1L1805.7 401.1L1806.7 405.1L1809.2 409.1L1810.2 413.1L1810.0 415.0L1807.0 419.0L1810.0 421.0L1809.0 423.0L1804.5 424.0L1806.5 429.0L1810.0 434.0L1814.0 438.0L1820.0 440.0L1825.0 443.0L1828.0 446.0L1831.1 450.0L1836.1 452.0L1842.1 453.5L1849.1 454.5L1852.1 457.5L1856.1 460.5L1860.1 463.0L1866.1 465.1L1872.1 467.6L1875.1 469.6L1880.1 470.6L1886.1 472.1L1890.1 474.6L1895.1 476.6L1898.1 478.6L1903.1 479.1L1908.1 481.1L1913.1 482.6L1918.1 481.6L1923.1 479.1L1928.1 476.1L1934.2 475.6L1940.2 476.6L1946.2 479.6L1952.2 485.1L1958.2 491.1L1963.2 496.1L1966.7 498.3L1968.5 498.3L1968.5 444.5L1966.7 444.5L1961.2 445.0L1957.2 446.0L1953.2 448.5L1948.2 448.5L1942.2 450.5L1937.2 452.5L1935.7 451.0L1933.2 447.5L1930.2 445.0L1926.1 444.5L1921.1 444.0L1918.1 439.0L1915.1 436.0L1913.1 430.0L1909.1 425.0L1904.6 420.0L1902.1 415.0L1903.6 414.1L1901.6 409.1L1898.6 403.1L1897.9 399.1L1898.9 393.1L1899.1 385.1L1899.6 377.0L1900.6 370.0L1902.6 363.0L1905.1 357.0L1906.6 353.0L1906.1 347.0L1905.1 341.0L1904.1 335.0L1904.1 335.1L1905.1 331.1L1908.1 327.1L1912.1 323.1L1917.1 320.1L1922.1 317.1L1928.1 314.1L1934.2 309.1L1940.2 305.1L1945.2 303.1L1950.2 302.1L1955.2 303.6L1960.2 305.6L1966.7 304.6L1968.5 304.6L1968.5 257.0L1668.5 257.0Z" fill="#d2b48c"/>
<path d="M1726.6 310.1L1728.1 312.6L1727.6 316.1L1725.6 317.1L1724.9 314.1L1725.6 311.1Z" fill="#d2b48c"/>
<g fill="none" stroke="#97b6e1" stroke-width="1.5"><path d="M1703.1 263.0L1709.1 262.0L1716.1 259.5"/><path d="M1697.0 266.5L1695.0 268.5L1693.2 271.5L1696.0 274.0"/><path d="M1755.1 259.5L1760.1 261.0L1764.1 260.0L1768.1 263.5L1771.1 260.0"/><path d="M1786.1 259.5L1790.1 265.0L1793.1 272.0"/><path d="M1888.1 259.5L1895.1 264.0L1900.1 269.0L1906.1 278.0L1911.1 289.0L1917.1 295.0L1918.1 304.1L1923.1 307.1L1924.6 312.1L1926.6 314.6"/><path d="M1864.1 259.5L1867.1 260.0L1870.1 259.5"/><path d="M1808.2 406.6L1816.2 406.1L1820.2 412.1L1826.2 417.1L1831.2 416.1L1834.2 421.1L1839.2 424.6L1839.2 426.6L1833.2 426.3"/><path d="M1868.1 403.1L1874.1 407.6L1880.1 408.1L1887.1 404.1L1893.1 403.1L1897.6 400.6"/><path d="M1958.2 447.0L1960.2 450.0L1963.2 449.0L1965.2 454.0"/><path d="M1793.5 273.0L1799.0 280.0L1806.0 286.0L1814.0 291.0L1816.5 300.1L1820.0 306.1L1827.0 310.1L1834.1 313.6L1838.1 310.1L1840.1 304.1L1844.1 302.1L1854.1 302.6L1860.1 307.6L1865.1 313.1L1868.1 322.1L1873.1 329.1L1878.6 333.1L1878.6 338.1L1877.6 335.0L1880.1 341.0L1882.1 347.0L1888.1 350.0L1895.1 352.5L1903.1 354.5L1906.3 353.2"/></g>
<g fill="none" stroke="#000" stroke-width="1.55" stroke-linecap="butt"><path d="M1702.1 259.0L1700.1 263.0L1698.0 266.0"/><path d="M1765.8 259.0L1765.8 282.0"/><path d="M1793.1 273.0L1836.4 273.0L1836.4 259.0"/><path d="M1942.2 259.0L1942.2 272.0L1945.2 278.0L1948.2 285.0L1946.2 292.0L1945.2 298.0L1944.2 303.1"/></g>
<g fill="none" stroke="#000" stroke-width="1.7" stroke-dasharray="4.9 2.1" stroke-linecap="butt"><path d="M1670.0 265.5L1683.0 264.3L1699.0 262.5L1700.1 261.0L1702.1 259.5"/><path d="M1698.0 266.0L1720.1 274.0L1743.1 282.0L1765.1 282.0L1774.6 282.0L1775.6 276.2L1793.1 275.8"/><path d="M1793.5 273.0L1799.0 280.0L1806.0 286.0L1814.0 291.0L1816.5 300.1L1820.0 306.1L1827.0 310.1L1834.1 313.6L1838.1 310.1L1840.1 304.1L1844.1 302.1L1854.1 302.6L1860.1 307.6L1865.1 313.1L1868.1 322.1L1873.1 329.1L1878.6 333.1L1878.6 338.1L1877.6 335.0L1880.1 341.0L1882.1 347.0L1888.1 350.0L1895.1 352.5L1903.1 354.5L1906.3 353.2"/><path d="M1966.7 483.1L1964.0 487.1L1964.4 493.1L1963.4 496.1"/></g>
<path d="M1899.6 360.0L1898.1 365.0L1897.3 373.0L1897.9 382.0L1898.4 389.1" fill="none" stroke="#42566e" stroke-width="2.2"/>
<g fill="none" stroke="#000" stroke-width="2.15"><path d="M1668.5 259.0L1670.0 263.0L1671.5 266.5L1674.0 271.5L1676.0 276.5L1677.5 281.0L1680.0 285.0L1682.0 289.0L1684.5 294.0L1686.5 298.0L1686.5 302.1L1689.0 304.6L1693.0 307.1L1697.0 310.1L1701.1 314.1L1704.6 318.1L1707.1 321.1L1706.6 325.1L1704.6 328.1L1702.1 329.1L1695.0 329.1L1693.5 328.3L1698.0 332.1L1701.1 335.1L1703.1 338.0L1707.1 339.5L1711.1 342.5L1712.6 344.0L1715.1 342.0L1717.6 340.0L1718.1 344.0L1722.1 347.0L1727.1 350.0L1730.1 354.0L1730.6 359.0L1729.1 364.0L1728.1 368.0L1730.1 371.0L1734.1 374.0L1738.1 375.0L1742.1 378.0L1746.1 381.5L1750.1 384.0L1752.6 387.1L1753.6 391.1L1755.1 393.1L1759.1 390.6L1761.6 387.1L1760.1 384.0L1758.1 381.0L1757.1 377.0L1755.1 374.0L1754.1 376.0L1751.1 377.0L1748.1 375.0L1747.1 371.0L1746.1 367.0L1744.1 363.0L1742.1 359.0L1739.6 355.0L1738.1 351.0L1737.1 346.0L1734.1 343.0L1731.1 339.0L1729.1 337.1L1726.6 333.1L1723.6 330.1L1721.6 327.1L1720.6 322.1L1719.1 319.6L1716.1 316.1L1712.6 312.1L1710.1 308.1L1706.1 304.1L1702.1 301.1L1700.1 298.0L1699.5 293.0L1698.5 288.0L1697.0 283.0L1697.5 279.0L1697.0 275.0L1701.1 276.5L1706.1 279.0L1709.1 278.0L1712.1 281.0L1718.1 283.0L1718.6 288.0L1720.1 293.0L1722.1 298.0L1723.6 302.1L1726.1 306.1L1728.6 310.1L1730.1 314.1L1733.1 318.1L1736.1 321.1L1739.1 325.1L1742.1 327.6L1748.6 328.6L1748.6 333.1L1747.6 336.1L1751.1 338.0L1755.1 339.5L1757.6 343.0L1761.1 344.0L1764.1 348.0L1765.1 350.5L1761.6 353.0L1761.1 356.5L1765.1 359.0L1770.1 361.0L1775.1 364.5L1778.1 369.0L1783.1 372.5L1788.1 376.5L1792.1 382.0L1796.1 387.1L1800.2 392.1L1804.2 396.1L1805.7 401.1L1806.7 405.1L1809.2 409.1L1810.2 413.1L1810.0 415.0L1807.0 419.0L1810.0 421.0L1809.0 423.0L1804.5 424.0L1806.5 429.0L1810.0 434.0L1814.0 438.0L1820.0 440.0L1825.0 443.0L1828.0 446.0L1831.1 450.0L1836.1 452.0L1842.1 453.5L1849.1 454.5L1852.1 457.5L1856.1 460.5L1860.1 463.0L1866.1 465.1L1872.1 467.6L1875.1 469.6L1880.1 470.6L1886.1 472.1L1890.1 474.6L1895.1 476.6L1898.1 478.6L1903.1 479.1L1908.1 481.1L1913.1 482.6L1918.1 481.6L1923.1 479.1L1928.1 476.1L1934.2 475.6L1940.2 476.6L1946.2 479.6L1952.2 485.1L1958.2 491.1L1963.2 496.1L1966.7 498.3"/><path d="M1966.7 304.6L1960.2 305.6L1955.2 303.6L1950.2 302.1L1945.2 303.1L1940.2 305.1L1934.2 309.1L1928.1 314.1L1922.1 317.1L1917.1 320.1L1912.1 323.1L1908.1 327.1L1905.1 331.1L1904.1 335.1L1904.1 335.0L1905.1 341.0L1906.1 347.0L1906.6 353.0L1905.1 357.0L1902.6 363.0L1900.6 370.0L1899.6 377.0L1899.1 385.1L1898.9 393.1L1897.9 399.1L1898.6 403.1L1901.6 409.1L1903.6 414.1L1902.1 415.0L1904.6 420.0L1909.1 425.0L1913.1 430.0L1915.1 436.0L1918.1 439.0L1921.1 444.0L1926.1 444.5L1930.2 445.0L1933.2 447.5L1935.7 451.0L1937.2 452.5L1942.2 450.5L1948.2 448.5L1953.2 448.5L1957.2 446.0L1961.2 445.0L1966.7 444.5"/><path d="M1726.6 310.1L1728.1 312.6L1727.6 316.1L1725.6 317.1L1724.9 314.1L1725.6 311.1Z" stroke-width="1.4"/></g>
<g fill="none" stroke="#000"><path d="M1930.2 306.6L1932.2 304.9L1934.7 304.1" stroke-width="4.6"/><path d="M1901.6 338.6L1903.3 331.6L1906.9 325.9L1911.9 320.9L1918.1 317.9" stroke-width="4.0"/><path d="M1911.1 317.9L1915.1 317.3" stroke-width="4.0"/><path d="M1899.6 329.1L1902.6 329.1" stroke-width="3.2"/><path d="M1898.1 335.9L1901.1 335.6" stroke-width="3.6"/><path d="M1943.2 302.6L1944.4 300.1" stroke-width="3.2"/><path d="M1964.0 304.6L1965.7 303.3" stroke-width="3.4"/><path d="M1899.6 335.0L1902.6 341.0L1904.1 347.0L1905.1 352.0" stroke-width="3.6"/><path d="M1900.1 405.1L1902.6 411.1" stroke-width="3.2"/><path d="M1729.1 365.0L1730.1 369.0L1733.1 372.0" stroke-width="3.2"/><path d="M1732.1 341.0L1735.1 344.5" stroke-width="3.6"/><path d="M1773.1 363.0L1777.1 367.5" stroke-width="3.2"/><path d="M1763.1 357.5L1768.1 360.0" stroke-width="2.8"/><path d="M1704.1 329.1L1706.6 330.1" stroke-width="3.6"/><path d="M1706.1 323.6L1706.1 327.1" stroke-width="2.8"/><path d="M1675.0 275.0L1676.2 277.0" stroke-width="2.8"/><path d="M1682.5 292.5L1684.5 294.5" stroke-width="2.8"/><path d="M1685.5 302.1L1686.8 303.6" stroke-width="2.8"/><path d="M1740.1 354.0L1741.6 358.0L1744.6 364.0L1747.6 369.0" stroke-width="2.6"/><path d="M1712.1 306.1L1714.1 309.1L1716.1 312.6L1718.1 315.1" stroke-width="4.0"/><path d="M1714.1 314.1L1717.1 317.1L1720.1 319.1" stroke-width="2.4"/><path d="M1691.5 322.6L1693.0 325.1L1693.2 327.1" stroke-width="3.2"/><path d="M1688.3 322.3L1689.0 323.1" stroke-width="2.2"/><path d="M1656.5 311.1L1657.2 314.1L1657.0 315.3" stroke-width="3.0"/><path d="M1793.1 407.1L1796.1 410.1L1799.1 413.1" stroke-width="2.6"/><path d="M1740.1 353.0L1741.6 354.5" stroke-width="2.0"/><path d="M1744.1 357.5L1745.1 358.2" stroke-width="2.0"/><path d="M1745.8 362.0L1746.3 362.6" stroke-width="1.6"/><path d="M1754.6 374.5L1756.6 376.0" stroke-width="2.2"/></g>
<circle cx="1655.2" cy="260.3" r="1.5" fill="#000"/><circle cx="1743.2" cy="444.0" r="1.7" fill="#000"/><circle cx="1745.0" cy="437.7" r="1.0" fill="#000"/><circle cx="1698.5" cy="449.0" r="1.2" fill="#000"/>
<circle cx="1687.0" cy="366.0" r="0.9" fill="#55606e" fill-opacity="0.6"/><circle cx="1763.2" cy="546.5" r="0.9" fill="#55606e" fill-opacity="0.6"/><circle cx="1802.3" cy="405.6" r="1.2" fill="#55606e" fill-opacity="0.6"/><circle cx="1726.6" cy="321.9" r="1.0" fill="#55606e" fill-opacity="0.6"/><circle cx="1738.1" cy="326.9" r="1.0" fill="#55606e" fill-opacity="0.6"/><circle cx="1732.1" cy="333.9" r="1.0" fill="#55606e" fill-opacity="0.6"/><circle cx="1963" cy="417.5" r="1.0" fill="#55606e" fill-opacity="0.6"/><circle cx="1904.6" cy="409.9" r="1.0" fill="#55606e" fill-opacity="0.6"/><circle cx="1686.5" cy="366.5" r="0.8" fill="#55606e" fill-opacity="0.6"/>
</g>
<path d="M1566.5 259.0V574.5H1966.5V259.0" fill="none" stroke="#000" stroke-width="1.39"/>
<path d="M1566.5 574.5v3.47M1566.5 259.0v-3.47M1590.5 574.5v3.47M1590.5 259.0v-3.47M1601.5 574.5v3.47M1601.5 259.0v-3.47M1613.5 574.5v3.47M1613.5 259.0v-3.47M1625.5 574.5v3.47M1625.5 259.0v-3.47M1648.5 574.5v3.47M1648.5 259.0v-3.47M1660.5 574.5v3.47M1660.5 259.0v-3.47M1672.5 574.5v3.47M1672.5 259.0v-3.47M1684.5 574.5v3.47M1684.5 259.0v-3.47M1707.5 574.5v3.47M1707.5 259.0v-3.47M1719.5 574.5v3.47M1719.5 259.0v-3.47M1731.5 574.5v3.47M1731.5 259.0v-3.47M1742.5 574.5v3.47M1742.5 259.0v-3.47M1766.5 574.5v3.47M1766.5 259.0v-3.47M1778.5 574.5v3.47M1778.5 259.0v-3.47M1790.5 574.5v3.47M1790.5 259.0v-3.47M1801.5 574.5v3.47M1801.5 259.0v-3.47M1825.5 574.5v3.47M1825.5 259.0v-3.47M1837.5 574.5v3.47M1837.5 259.0v-3.47M1848.5 574.5v3.47M1848.5 259.0v-3.47M1860.5 574.5v3.47M1860.5 259.0v-3.47M1884.5 574.5v3.47M1884.5 259.0v-3.47M1895.5 574.5v3.47M1895.5 259.0v-3.47M1907.5 574.5v3.47M1907.5 259.0v-3.47M1919.5 574.5v3.47M1919.5 259.0v-3.47M1942.5 574.5v3.47M1942.5 259.0v-3.47M1954.5 574.5v3.47M1954.5 259.0v-3.47M1966.5 574.5v3.47M1966.5 259.0v-3.47M1566.5 574.5h-3.47M1966.5 574.5h3.47M1566.5 562.5h-3.47M1966.5 562.5h3.47M1566.5 538.5h-3.47M1966.5 538.5h3.47M1566.5 526.5h-3.47M1966.5 526.5h3.47M1566.5 514.5h-3.47M1966.5 514.5h3.47M1566.5 502.5h-3.47M1966.5 502.5h3.47M1566.5 478.5h-3.47M1966.5 478.5h3.47M1566.5 466.5h-3.47M1966.5 466.5h3.47M1566.5 454.5h-3.47M1966.5 454.5h3.47M1566.5 441.5h-3.47M1966.5 441.5h3.47M1566.5 417.5h-3.47M1966.5 417.5h3.47M1566.5 404.5h-3.47M1966.5 404.5h3.47M1566.5 391.5h-3.47M1966.5 391.5h3.47M1566.5 379.5h-3.47M1966.5 379.5h3.47M1566.5 353.5h-3.47M1966.5 353.5h3.47M1566.5 340.5h-3.47M1966.5 340.5h3.47M1566.5 326.5h-3.47M1966.5 326.5h3.47M1566.5 313.5h-3.47M1966.5 313.5h3.47M1566.5 286.5h-3.47M1966.5 286.5h3.47M1566.5 272.5h-3.47M1966.5 272.5h3.47M1566.5 258.5h-3.47M1966.5 258.5h3.47" stroke="#000" stroke-width="1.74" fill="none"/>
<path d="M1578.5 574.5v9.1M1578.5 259.0v-9.1M1637.5 574.5v9.1M1637.5 259.0v-9.1M1695.5 574.5v9.1M1695.5 259.0v-9.1M1754.5 574.5v9.1M1754.5 259.0v-9.1M1813.5 574.5v9.1M1813.5 259.0v-9.1M1872.5 574.5v9.1M1872.5 259.0v-9.1M1931.5 574.5v9.1M1931.5 259.0v-9.1M1566.5 550.5h-9.1M1966.5 550.5h9.1M1566.5 491.5h-9.1M1966.5 491.5h9.1M1566.5 429.5h-9.1M1966.5 429.5h9.1M1566.5 366.5h-9.1M1966.5 366.5h9.1M1566.5 300.5h-9.1M1966.5 300.5h9.1" stroke="#000" stroke-width="3.47" fill="none"/>
<g font-size="22.57" fill="#000">
<text x="1551.0" y="560.0" text-anchor="end" font-size="22.3">10°N</text>
<text x="1551.0" y="500.2" text-anchor="end" font-size="22.3">15°N</text>
<text x="1551.0" y="438.8" text-anchor="end" font-size="22.3">20°N</text>
<text x="1551.0" y="375.5" text-anchor="end" font-size="22.3">25°N</text>
<text x="1551.0" y="309.5" text-anchor="end" font-size="22.3">30°N</text>
<text transform="translate(1609.1,604.8) rotate(-45)" text-anchor="end">125°W</text>
<text transform="translate(1667.9,604.8) rotate(-45)" text-anchor="end">120°W</text>
<text transform="translate(1726.7,604.8) rotate(-45)" text-anchor="end">115°W</text>
<text transform="translate(1785.5,604.8) rotate(-45)" text-anchor="end">110°W</text>
<text transform="translate(1844.4,604.8) rotate(-45)" text-anchor="end">105°W</text>
<text transform="translate(1903.2,604.8) rotate(-45)" text-anchor="end">100°W</text>
<text transform="translate(1956.8,604.8) rotate(-45)" text-anchor="end">95°W</text>
</g>
<rect x="1684" y="658" width="165.2" height="144" rx="5" ry="5" fill="#fff" fill-opacity="0.8" stroke="#ccc" stroke-opacity="0.8" stroke-width="1.33"/>
<path d="M1692 677.3H1739.8" stroke="#0000ff" stroke-width="3.0" fill="none"/>
<circle cx="1715.4" cy="677.3" r="6.1" fill="#0000ff"/>
<text x="1756.3" y="686.3" font-size="22.2">sp013</text>
<path d="M1692 712.5H1739.8" stroke="#ff0000" stroke-width="3.0" fill="none"/>
<circle cx="1715.4" cy="712.5" r="6.1" fill="#ff0000"/>
<text x="1756.3" y="720.6" font-size="22.2">RTOFS</text>
<path d="M1692 746.3H1739.8" stroke="#008000" stroke-width="3.0" fill="none"/>
<circle cx="1715.4" cy="746.3" r="6.1" fill="#008000"/>
<text x="1756.3" y="755.3" font-size="22.2">ESPC</text>
<path d="M1692 780.2H1739.8" stroke="#ff00ff" stroke-width="3.0" fill="none"/>
<circle cx="1715.4" cy="780.2" r="6.1" fill="#ff00ff"/>
<text x="1756.3" y="789.2" font-size="22.2">CMEMS</text>
</svg>
</body></html>
